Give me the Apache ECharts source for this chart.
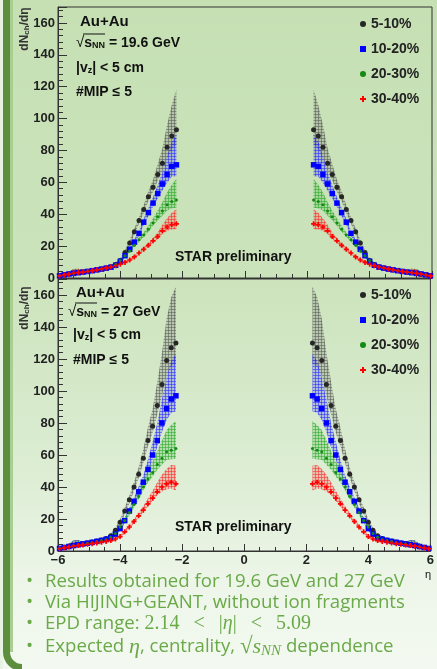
<!DOCTYPE html>
<html>
<head>
<meta charset="utf-8">
<script src="https://cdn.jsdelivr.net/npm/echarts@6.0.0/dist/echarts.min.js"></script>
<style>
  html, body { margin: 0; padding: 0; }
  body {
    width: 437px; height: 669px; overflow: hidden;
    background: linear-gradient(to bottom, #c6e0b4 0%, #cbe3bb 40%, #dcedd3 70%, #eef6ea 88%, #f3f9f0 100%);
  }
  #chart { width: 437px; height: 669px; }
</style>
</head>
<body>
<div id="chart"></div>
<script>
// |eta| bin centres, same on both sides (values mirrored)
const etaAbs = [2.2, 2.35, 2.5, 2.65, 2.8, 2.95, 3.1, 3.25, 3.4, 3.55, 3.7, 3.85, 4.0,
  4.15, 4.3, 4.45, 4.6, 4.75, 4.9, 5.05, 5.2, 5.35, 5.5, 5.65, 5.8, 5.95];
const centralities = ['5-10%', '10-20%', '20-30%', '30-40%'];

// dNch/deta, 19.6 GeV
const dn196_5_10  = [93, 89, 82, 72, 65, 57, 51, 43, 36, 29, 22, 16, 11, 8.5, 7, 6.3, 5.7, 5.2, 4.7, 4.2, 3.7, 3.4, 3, 2.5, 2, 1.4];
const dn196_10_20 = [71, 70, 65, 59, 53, 47, 41, 35, 28, 22.5, 18, 14, 10.5, 8, 6.8, 6.2, 5.6, 5.1, 4.6, 4.1, 3.7, 3.3, 2.9, 2.5, 2, 1.4];
const dn196_20_30 = [49, 48, 46, 42, 38.5, 34.5, 30.6, 27, 24, 20.5, 17, 14, 11, 8.5, 7, 6.3, 5.7, 5.2, 4.7, 4.2, 3.7, 3.4, 3, 2.5, 2, 1.4];
const dn196_30_40 = [34, 33.5, 32, 29.6, 26, 23.3, 20.5, 18, 15.7, 13.2, 11.3, 9.8, 8.6, 7.7, 6.9, 6.3, 5.7, 5.1, 4.6, 4.1, 3.7, 3.4, 3, 2.4, 1.9, 1.3];
// relative systematic band (up / down)
const sysUp196   = [0.27, 0.22, 0.17, 0.13, 0.1, 0.08, 0.07, 0.06, 0.06, 0.07, 0.08, 0.1, 0.12, 0.14, 0.15, 0.15, 0.15, 0.15, 0.15, 0.18, 0.3, 0.7, 0.9, 0.5, 0.25, 0.25];
const sysDown196 = [0.1, 0.09, 0.08, 0.07, 0.06, 0.05, 0.05, 0.05, 0.05, 0.06, 0.07, 0.08, 0.1, 0.12, 0.13, 0.13, 0.13, 0.13, 0.13, 0.14, 0.15, 0.15, 0.15, 0.15, 0.2, 0.25];

// dNch/deta, 27 GeV
const dn27_5_10  = [130, 127, 119, 104, 91, 78, 69, 58, 48, 40, 32, 25, 18, 13, 9.5, 7.8, 6.9, 6.2, 5.6, 5.0, 4.5, 4.0, 3.5, 2.9, 2.3, 1.6];
const dn27_10_20 = [97, 95, 89, 80, 69, 60, 51, 43, 37, 31, 25, 19, 14, 10.5, 8.3, 7.3, 6.6, 6.0, 5.4, 4.9, 4.4, 3.9, 3.4, 2.8, 2.2, 1.6];
const dn27_20_30 = [64, 63, 62, 58, 54, 49, 45, 40, 34, 29, 24, 19, 15, 11, 8.6, 7.2, 6.5, 5.9, 5.3, 4.8, 4.3, 3.8, 3.3, 2.7, 2.1, 1.5];
const dn27_30_40 = [42, 43, 42, 40, 37, 33, 29.5, 25.5, 22, 18.5, 15, 12, 9, 7.5, 6.5, 6, 5.5, 5, 4.6, 4.2, 3.8, 3.4, 3, 2.5, 2, 1.4];
const sysUp27   = [0.27, 0.25, 0.22, 0.19, 0.16, 0.14, 0.12, 0.1, 0.09, 0.08, 0.08, 0.09, 0.1, 0.12, 0.14, 0.15, 0.15, 0.15, 0.15, 0.18, 0.3, 0.7, 0.9, 0.6, 0.25, 0.25];
const sysDown27 = [0.1, 0.09, 0.08, 0.07, 0.06, 0.05, 0.05, 0.05, 0.05, 0.06, 0.07, 0.08, 0.1, 0.12, 0.13, 0.13, 0.13, 0.13, 0.13, 0.14, 0.15, 0.15, 0.15, 0.15, 0.2, 0.25];

const FONT = '"Liberation Sans", Arial, sans-serif';
const styles = [
  { color: '#262626', band: '90,90,90', symbol: 'circle', size: 5 },
  { color: '#0000ff', band: '40,40,255', symbol: 'rect', size: 5.5 },
  { color: '#138a13', band: '40,170,40', symbol: 'circle', size: 3 },
  { color: '#ff0000', band: '255,40,40', symbol: 'path://M2,0h2v2h2v2h-2v2h-2v-2h-2v-2h2z', size: 5 }
];

// small grid hatch like the ROOT fill style
function hatch(rgb) {
  const c = document.createElement('canvas');
  c.width = 3; c.height = 3;
  const ctx = c.getContext('2d');
  ctx.fillStyle = 'rgba(' + rgb + ',0.22)';
  ctx.fillRect(0, 0, 3, 3);
  ctx.fillStyle = 'rgba(' + rgb + ',0.55)';
  ctx.fillRect(0, 0, 3, 1);
  ctx.fillRect(0, 0, 1, 3);
  return { image: c, repeat: 'repeat' };
}

function sidePoints(vals) {
  const pts = [];
  etaAbs.forEach((e, i) => pts.push([-e, vals[i]]));
  etaAbs.forEach((e, i) => pts.push([e, vals[i]]));
  return pts;
}

function bandSeries(vals, up, dn, sign, st, gi) {
  const data = etaAbs.map((e, i) => [sign * e, vals[i] * (1 - dn[i]), vals[i] * (1 + up[i])]);
  const fill = hatch(st.band);
  return {
    type: 'custom', xAxisIndex: gi, yAxisIndex: gi, silent: true,
    data: data,
    renderItem: function (params, api) {
      if (params.dataIndex !== 0) return null;
      const top = data.map(d => api.coord([d[0], d[2]]));
      const bot = data.map(d => api.coord([d[0], d[1]])).reverse();
      return { type: 'polygon', shape: { points: top.concat(bot) }, style: { fill: fill } };
    }
  };
}

function panelSeries(sets, up, dn, gi) {
  const out = [];
  sets.forEach((vals, k) => {
    const st = styles[k];
    out.push(bandSeries(vals, up, dn, -1, st, gi));
    out.push(bandSeries(vals, up, dn, 1, st, gi));
    out.push({
      name: centralities[k], type: 'scatter', xAxisIndex: gi, yAxisIndex: gi,
      data: sidePoints(vals), symbol: st.symbol, symbolSize: st.size,
      itemStyle: { color: st.color, opacity: 1 }, silent: true
    });
  });
  return out;
}

function xAxisCfg(gi, labels) {
  return {
    type: 'value', gridIndex: gi, min: -6, max: 6, interval: 2,
    axisLine: { onZero: false, lineStyle: { color: '#333', width: 1 } },
    axisTick: { inside: true, length: 7, lineStyle: { color: '#333' } },
    minorTick: { show: true, splitNumber: 4, length: 4, lineStyle: { color: '#333' } },
    splitLine: { show: false },
    axisLabel: {
      show: labels, margin: 3, color: '#222', fontFamily: FONT, fontWeight: 'bold', fontSize: 13,
      formatter: v => (v < 0 ? '\u2212' + (-v) : String(v))
    }
  };
}

function yAxisCfg(gi) {
  return {
    type: 'value', gridIndex: gi, min: 0, max: 170, interval: 20,
    axisLine: { onZero: false, lineStyle: { color: '#333', width: 1 } },
    axisTick: { inside: true, length: 9, lineStyle: { color: '#333' } },
    minorTick: { show: true, splitNumber: 5, length: 5, lineStyle: { color: '#333' } },
    splitLine: { show: false },
    axisLabel: { margin: 3, color: '#222', fontFamily: FONT, fontWeight: 'bold', fontSize: 13, showMaxLabel: false }
  };
}

function legendCfg(top) {
  return {
    orient: 'vertical', left: 355, top: top, itemWidth: 6, itemHeight: 6, itemGap: 9,
    selectedMode: false, data: centralities,
    textStyle: { fontFamily: FONT, fontWeight: 'bold', fontSize: 14, color: '#222', lineHeight: 16 }
  };
}

function label(x, y, text, rich, font) {
  const style = { text: text, font: font || ('bold 14px ' + FONT), fill: '#111', verticalAlign: 'middle' };
  if (rich) style.rich = rich;
  return { type: 'text', x: x, y: y, silent: true, style: style };
}
const sqrtRich = {
  a: { font: 'bold 14px ' + FONT, fill: '#111' },
  r: { font: '15px ' + FONT, fill: '#111' },
  sb: { font: 'bold 9px ' + FONT, fill: '#111', verticalAlign: 'bottom', lineHeight: 8 }
};

function annotations(y0, ys, energy, xs) {
  return [
    label(xs[0], y0 + ys[0], 'Au+Au', null, 'bold 15px ' + FONT),
    label(xs[1], y0 + ys[1], '{r|\u221a}{a|s}{sb|NN}{a| = ' + energy + ' GeV}', sqrtRich),
    { type: 'line', silent: true, shape: { x1: xs[1] + 7, y1: y0 + ys[1] - 9, x2: xs[1] + 29, y2: y0 + ys[1] - 9 }, style: { stroke: '#111', lineWidth: 1 } },
    label(xs[2], y0 + ys[2], '{a||v}{sb|z}{a|| < 5 cm}', sqrtRich),
    label(xs[3], y0 + ys[3], '#MIP \u2264 5'),
    label(175, y0 + ys[4], 'STAR preliminary'),
    {
      type: 'text', x: 25, y: y0 + 29, rotation: Math.PI / 2, silent: true,
      style: {
        text: '{m|dN}{s|ch}{m|/d\u03b7}', align: 'center', verticalAlign: 'middle',
        rich: { m: { font: 'bold 12px ' + FONT, fill: '#333' }, s: { font: 'bold 8px ' + FONT, fill: '#333', verticalAlign: 'bottom', lineHeight: 7 } }
      }
    }
  ];
}

const GREEN = '#6aa948';
const sans = '18.6px "Open Sans", sans-serif';
const bulletRich = {
  s: { font: sans, fill: GREEN },
  m: { font: '20px "Liberation Serif", serif', fill: GREEN },
  i: { font: 'italic 20px "Liberation Serif", serif', fill: GREEN },
  M: { font: '23px "Liberation Serif", serif', fill: GREEN },
  I: { font: 'italic 22px "Liberation Serif", serif', fill: GREEN },
  is: { font: 'italic 15px "Liberation Serif", serif', fill: GREEN, verticalAlign: 'bottom', lineHeight: 12 }
};
const bulletLines = [
  '{s|Results obtained for 19.6 GeV and 27 GeV}',
  '{s|Via HIJING+GEANT, without ion fragments}',
  '{s|EPD range: }{m|2.14\u2002\u2009<\u2009\u2002|}{i|\u03b7}{m||\u2002\u2009<\u2009\u20025.09}',
  '{s|Expected }{I|\u03b7}{s|, centrality, }{M|\u221a}{I|s}{is|NN}{s| dependence}'
];
const bulletY = [582, 603, 624, 647];

const graphics = [
  { type: 'rect', silent: true, shape: { x: 0, y: 0, width: 3, height: 669 }, style: { fill: '#e9f3e3' } },
  { type: 'rect', silent: true, shape: { x: 3, y: 0, width: 7, height: 652 }, style: { fill: '#5d8e3d' } },
  { type: 'rect', silent: true, shape: { x: 10, y: 0, width: 3, height: 652 }, style: { fill: '#a8cf91' } },
  { type: 'arc', silent: true, shape: { cx: 22, cy: 652, r: 15.5, startAngle: Math.PI / 2, endAngle: Math.PI, clockwise: true }, style: { stroke: '#5d8e3d', lineWidth: 7, fill: null } },
  label(425, 575, '\u03b7', null, '11px ' + FONT)
]
  .concat(annotations(0, [22, 43, 68, 92, 257], '19.6', [80, 76, 76, 76]))
  .concat(annotations(279, [14, 33, 56, 81, 248], '27', [76, 68, 73, 73]));

bulletLines.forEach((t, i) => {
  graphics.push({ type: 'text', x: 26, y: bulletY[i], silent: true, style: { text: '\u2022', font: '19px "Open Sans", sans-serif', fill: GREEN, verticalAlign: 'middle' } });
  graphics.push({ type: 'text', x: 45, y: bulletY[i], silent: true, style: { text: t, rich: bulletRich, verticalAlign: 'middle' } });
});

const chart = echarts.init(document.getElementById('chart'), null, { renderer: 'canvas' });
chart.setOption({
  animation: false,
  backgroundColor: 'transparent',
  grid: [
    { left: 58, top: 7, width: 374, height: 271, show: true, borderColor: '#333', borderWidth: 1, backgroundColor: 'transparent' },
    { left: 58, top: 279, width: 374, height: 272, show: true, borderColor: '#333', borderWidth: 1, backgroundColor: 'transparent' }
  ],
  xAxis: [xAxisCfg(0, false), xAxisCfg(1, true)],
  yAxis: [yAxisCfg(0), yAxisCfg(1)],
  legend: [legendCfg(11), legendCfg(282)],
  series: panelSeries([dn196_5_10, dn196_10_20, dn196_20_30, dn196_30_40], sysUp196, sysDown196, 0)
    .concat(panelSeries([dn27_5_10, dn27_10_20, dn27_20_30, dn27_30_40], sysUp27, sysDown27, 1)),
  graphic: graphics
});
</script>
</body>
</html>
